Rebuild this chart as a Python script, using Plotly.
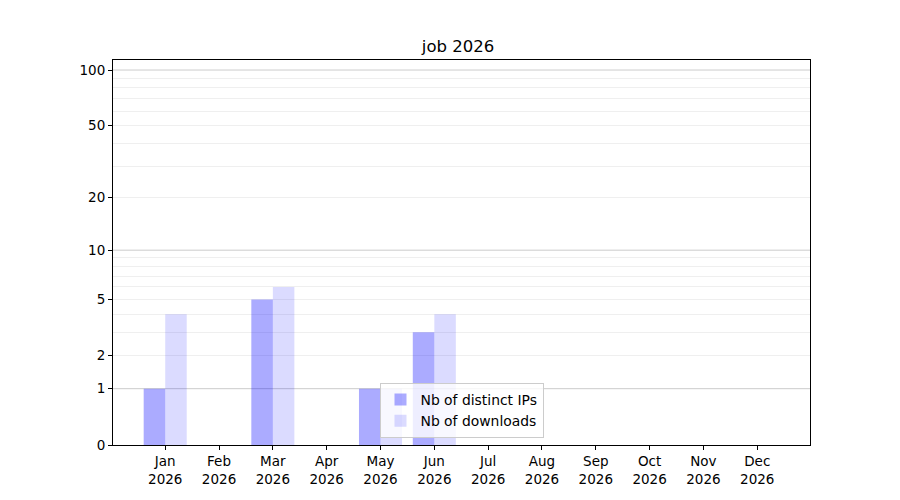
import numpy as np
import plotly.graph_objects as go

# Monthly stats for 2026
months = ["Jan", "Feb", "Mar", "Apr", "May", "Jun", "Jul", "Aug", "Sep", "Oct", "Nov", "Dec"]
year = 2026
distinct_ips = [1, 0, 5, 0, 1, 3, 0, 0, 0, 0, 0, 0]
downloads = [4, 0, 6, 0, 1, 4, 0, 0, 0, 0, 0, 0]

# y axis labels and grid values (log(1+x) scale)
tick_values = [0, 1, 2, 5, 10, 20, 50, 100]
major_grid = [1, 10, 100]
minor_grid = [2, 3, 4, 5, 6, 7, 8, 9, 20, 30, 40, 50, 60, 70, 80, 90]


def tr(v):
    return np.log10(1 + np.asarray(v, dtype=float))


x = np.arange(len(months))
tick_text = [f"{m}<br>{year}" for m in months]

fig = go.Figure()
fig.add_trace(go.Bar(x=x, y=tr(distinct_ips), name="Nb of distinct IPs",
                     width=0.4, offset=-0.4, marker=dict(color="rgba(0,0,255,0.33)", line_width=0)))
fig.add_trace(go.Bar(x=x, y=tr(downloads), name="Nb of downloads",
                     width=0.4, offset=0, marker=dict(color="rgba(0,0,255,0.14)", line_width=0)))

# darker grid at decades
for g in major_grid:
    fig.add_shape(type="line", xref="paper", x0=0, x1=1, yref="y", y0=float(tr(g)), y1=float(tr(g)),
                  line=dict(color="#cccccc", width=1), layer="below")

fig.update_xaxes(range=[-0.97, 11.98], tickvals=x, ticktext=tick_text, ticks="outside",
                 ticklen=4, tickcolor="black", showline=True, linecolor="black", linewidth=1,
                 mirror=True, showgrid=False, zeroline=False)
fig.update_yaxes(range=[0, 2.058], tickvals=tr(tick_values), ticktext=[str(t) for t in tick_values],
                 ticks="outside", ticklen=4, tickcolor="black", showline=True, linecolor="black",
                 linewidth=1, mirror=True, showgrid=False, zeroline=False,
                 minor=dict(tickmode="array", tickvals=tr(minor_grid), showgrid=True,
                            gridcolor="#efefef", gridwidth=1, ticks=""))

fig.update_layout(
    width=900, height=500,
    barmode="overlay",
    plot_bgcolor="white", paper_bgcolor="white",
    margin=dict(l=105, r=98, t=52, b=63),
    font=dict(family="DejaVu Sans", size=13.5, color="black"),
    title=dict(text="job 2026", x=0.5, xanchor="center", y=0.924, yanchor="middle",
               font=dict(size=16.5)),
    legend=dict(x=0.5, y=0.018, xanchor="center", yanchor="bottom",
                bgcolor="rgba(255,255,255,0.8)", bordercolor="#cccccc", borderwidth=1,
                font=dict(size=13.9)),
)

fig.write_html("out.html")
